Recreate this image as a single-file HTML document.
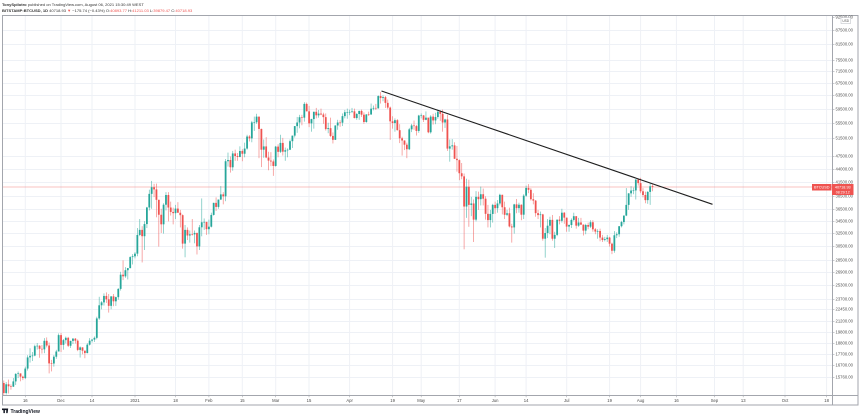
<!DOCTYPE html>
<html><head><meta charset="utf-8"><style>
html,body{margin:0;padding:0;background:#fff;}
svg{display:block;font-family:"Liberation Sans",sans-serif;}
</style></head><body>
<svg id="s" width="860" height="418" viewBox="0 0 860 418" xmlns="http://www.w3.org/2000/svg">
<rect width="860" height="418" fill="#fff"/>
<defs><clipPath id="cp"><rect x="2.5" y="15.5" width="829.5" height="379.5"/></clipPath></defs>
<g id="grid" stroke="#eef1f6" stroke-width="1"></g>
<line x1="2" y1="187" x2="832" y2="187" stroke="#ef5350" stroke-opacity="0.35" stroke-width="0.9"/>
<g id="c" clip-path="url(#cp)"></g>
<line x1="381.5" y1="91" x2="712.5" y2="204.3" stroke="#1e1e1e" stroke-width="1.1"/>
<!-- frame -->
<g stroke="#a3a6ad" stroke-width="1" fill="none">
<rect x="2.5" y="15.5" width="855.5" height="389.5"/>
<line x1="2" y1="395.5" x2="858" y2="395.5"/>
<line x1="832.5" y1="15" x2="832.5" y2="405"/>
</g>
<!-- header -->
<text x="2" y="5.8" font-size="4.05" fill="#333"><tspan font-weight="bold">TonySpilotro</tspan> published on TradingView.com, August 06, 2021 15:30:49 WEST</text>
<text x="2" y="11.8" font-size="4.05" fill="#333"><tspan font-weight="bold">BITSTAMP:BTCUSD, 1D</tspan> 40718.93 <tspan fill="#ef5350">▼</tspan> −175.74 (−0.43%) O:<tspan fill="#ef5350">40893.77</tspan> H:<tspan fill="#ef5350">41211.03</tspan> L:<tspan fill="#ef5350">39879.47</tspan> C:<tspan fill="#ef5350">40718.93</tspan></text>
<!-- price axis -->
<g id="pticks" stroke="#a3a6ad" stroke-width="0.6"></g>
<g font-size="4.2" fill="#555">
<text x="835.5" y="18.5">92500.00</text>
<text x="835.5" y="31.5">87500.00</text>
<text x="835.5" y="45.5">81500.00</text>
<text x="835.5" y="61.5">75500.00</text>
<text x="835.5" y="72.5">71500.00</text>
<text x="835.5" y="84.5">67500.00</text>
<text x="835.5" y="96.5">63500.00</text>
<text x="835.5" y="110.5">59500.00</text>
<text x="835.5" y="124.5">55500.00</text>
<text x="835.5" y="139.5">51500.00</text>
<text x="835.5" y="157.5">47500.00</text>
<text x="835.5" y="170.5">44000.00</text>
<text x="835.5" y="183.5">41500.00</text>
<text x="835.5" y="197.5">38500.00</text>
<text x="835.5" y="210.5">36500.00</text>
<text x="835.5" y="222.5">34500.00</text>
<text x="835.5" y="234.5">32500.00</text>
<text x="835.5" y="247.5">30500.00</text>
<text x="835.5" y="261.5">28500.00</text>
<text x="835.5" y="273.5">26900.00</text>
<text x="835.5" y="286.5">25300.00</text>
<text x="835.5" y="300.5">23700.00</text>
<text x="835.5" y="310.5">22450.00</text>
<text x="835.5" y="322.5">21200.00</text>
<text x="835.5" y="333.5">19800.00</text>
<text x="835.5" y="344.5">18800.00</text>
<text x="835.5" y="355.5">17700.00</text>
<text x="835.5" y="366.5">16700.00</text>
<text x="835.5" y="378.5">15760.00</text>
</g>
<rect x="841" y="17.5" width="9.5" height="6" fill="#fff" stroke="#b5b8bf" stroke-width="0.5"/>
<text x="845.75" y="21.8" font-size="3.2" fill="#555" text-anchor="middle">USD</text>
<!-- price tag -->
<rect x="812" y="184" width="19.5" height="6.5" fill="#ef5350"/>
<text x="821.75" y="188.6" font-size="3.8" fill="#fff" text-anchor="middle">BTCUSD</text>
<rect x="832" y="184" width="21.5" height="11" fill="#ef5350"/>
<text x="842.75" y="188.6" font-size="3.8" fill="#fff" text-anchor="middle">40718.93</text>
<text x="842.75" y="193.6" font-size="3.6" fill="#fff" text-anchor="middle">08:29:12</text>
<!-- time axis -->
<g id="tticks" stroke="#a3a6ad" stroke-width="0.6"></g>
<g font-size="4.2" fill="#4a4a4a" text-anchor="middle">
<text x="25.3" y="401.8">16</text>
<text x="61" y="401.8">Dec</text>
<text x="92" y="401.8">14</text>
<text x="135" y="401.8">2021</text>
<text x="175.5" y="401.8">18</text>
<text x="208.9" y="401.8">Feb</text>
<text x="242.3" y="401.8">15</text>
<text x="275.7" y="401.8">Mar</text>
<text x="309" y="401.8">15</text>
<text x="349.6" y="401.8">Apr</text>
<text x="392.6" y="401.8">19</text>
<text x="421.2" y="401.8">May</text>
<text x="459.3" y="401.8">17</text>
<text x="495.1" y="401.8">Jun</text>
<text x="526.1" y="401.8">14</text>
<text x="566.7" y="401.8">Jul</text>
<text x="609.6" y="401.8">19</text>
<text x="640.6" y="401.8">Aug</text>
<text x="676.4" y="401.8">16</text>
<text x="714.5" y="401.8">Sep</text>
<text x="743.2" y="401.8">13</text>
<text x="785" y="401.8">Oct</text>
<text x="826.6" y="401.8">18</text>
</g>
<!-- logo -->
<g fill="#131722">
<rect x="2" y="408.5" width="4" height="1.6"/>
<rect x="3.4" y="408.5" width="1.5" height="4.6"/>
<polygon points="6.3,408.5 8.2,408.5 7.6,413.1 6.2,413.1"/>
<circle cx="6.3" cy="409.3" r="0.8"/>
</g>
<text x="10.5" y="412.9" font-size="5" font-weight="bold" fill="#131722">TradingView</text>
</svg>
<script>
(function(){
var D="15.77,14.35,14.83;15.65,14.72,15.48;15.84,14.80,15.33;15.47,15.08,15.30;15.96,15.28,15.70;16.34,15.43,16.29;16.48,15.96,16.33;16.33,15.71,16.07;16.15,15.80,15.96;16.88,15.88,16.72;17.85,16.56,17.66;18.47,17.22,17.80;18.13,17.35,17.82;18.80,17.76,18.66;18.95,18.35,18.70;18.75,17.63,18.42;18.77,18.00,18.37;19.41,18.03,19.16;19.48,18.55,18.72;19.00,16.33,17.15;17.45,16.49,17.14;17.86,16.88,17.72;18.33,17.54,18.18;19.86,18.18,19.70;"+
"19.92,18.13,18.78;19.33,18.34,19.22;19.56,18.92,19.44;19.53,18.58,18.70;19.17,18.50,19.15;19.42,18.86,19.36;19.42,18.90,19.17;19.29,18.21,18.32;18.64,17.65,18.55;18.56,17.93,18.25;18.28,17.59,18.04;18.94,18.02,18.80;19.41,18.72,19.17;19.34,19.00,19.27;19.57,19.05,19.44;21.56,19.30,21.38;23.77,21.23,22.80;23.27,22.35,23.13;24.17,22.77,23.87;24.29,23.07,23.48;24.10,22.00,22.74;23.84,22.36,23.82;24.10,22.70,23.25;23.79,22.73,23.73;24.79,23.44,24.71;26.87,24.51,26.49;28.42,25.80,26.28;27.49,26.09,27.08;27.38,25.88,27.36;29.00,27.33,28.88;29.30,27.85,28.99;"+
"29.60,28.70,29.37;33.30,29.00,32.19;34.80,32.00,33.00;33.60,28.13,31.99;34.44,29.90,33.95;36.94,33.30,36.83;40.18,36.30,39.37;41.95,36.60,40.67;41.36,38.75,40.24;41.40,35.10,38.24;38.26,30.40,35.54;36.60,32.50,33.91;37.60,32.40,37.33;39.70,36.30,39.15;39.70,34.40,36.82;37.90,35.40,36.03;36.80,33.90,35.82;37.30,34.80,36.63;37.80,35.90,35.89;36.40,33.40,35.47;35.60,30.10,30.85;33.80,28.85,33.00;33.40,31.40,32.10;32.90,31.00,32.29;34.80,32.10,32.28;32.90,30.90,32.51;32.56,29.25,30.43;33.80,29.90,33.42;38.50,31.98,34.26;34.90,33.00,34.32;34.32,32.20,33.11;"+
"34.70,32.30,33.52;35.90,33.40,35.51;37.70,35.40,37.67;38.70,36.20,36.93;38.30,36.60,38.29;40.90,38.20,39.27;39.70,37.40,38.90;46.70,37.98,46.20;48.20,45.00,46.48;47.30,43.70,44.85;48.60,44.10,48.00;48.90,46.30,47.40;48.10,46.30,47.18;49.70,47.10,48.58;49.00,46.20,47.93;50.60,47.10,49.16;52.60,48.90,52.15;52.50,50.90,51.68;56.30,50.70,55.89;57.50,53.60,55.92;58.30,55.50,57.49;57.50,46.90,54.13;54.20,44.90,48.89;51.40,47.00,49.68;52.00,46.90,47.06;48.40,44.20,46.34;48.30,45.10,46.15;46.60,43.00,45.14;"+
"49.80,45.00,49.63;50.20,47.10,48.38;52.60,48.10,50.54;51.80,47.50,48.42;49.40,46.30,48.76;49.20,47.10,48.88;51.40,48.80,50.97;52.40,49.30,52.38;54.90,51.90,54.88;57.40,53.10,55.86;58.00,54.30,57.33;58.00,55.10,57.20;61.70,56.10,61.19;61.60,59.00,59.00;60.60,54.60,55.63;56.90,53.40,56.80;58.90,54.20,58.87;60.00,57.00,57.86;59.40,57.20,58.35;59.80,57.90,58.10;58.60,55.50,57.35;58.40,53.70,54.09;55.80,53.00,54.34;57.20,52.00,52.30;53.20,50.40,51.31;55.10,51.30,55.05;56.60,53.90,55.86;56.50,54.70,55.81;58.40,54.90,57.63;59.40,57.00,58.75;59.80,56.90,58.79;"+
"59.50,57.90,58.83;60.00,58.50,59.00;59.80,57.00,57.09;58.50,56.60,58.23;59.20,56.60,59.12;59.50,57.40,58.04;58.70,55.50,56.00;58.20,55.80,58.11;58.90,57.70,58.10;61.30,58.00,59.78;60.70,59.30,60.00;61.20,59.40,59.86;63.80,59.80,63.59;64.85,61.30,62.98;63.80,62.00,63.26;63.60,60.00,61.50;62.50,59.60,60.10;60.40,51.30,56.18;57.60,54.20,55.71;57.00,53.40,56.50;56.80,53.70,53.80;55.40,50.50,51.70;52.10,47.50,51.14;51.20,48.80,50.10;50.60,46.90,49.00;54.40,48.80,54.02;55.50,53.30,55.05;56.40,53.90,54.88;55.20,52.40,53.60;58.00,53.10,57.80;"+
"58.40,57.00,57.83;57.95,56.00,56.60;58.98,56.50,57.20;57.20,53.00,53.24;57.90,52.90,57.50;58.30,55.30,56.43;58.60,55.40,57.38;59.50,56.90,58.90;59.30,56.30,58.28;59.50,53.40,55.86;56.90,54.40,56.70;58.00,48.60,49.15;51.40,46.10,49.70;51.50,48.90,49.93;50.70,46.70,46.76;49.80,43.90,46.45;46.60,42.10,43.56;45.80,42.30,42.90;43.50,30.00,37.00;42.40,35.00,40.78;42.20,33.50,37.30;38.80,35.30,37.56;38.30,31.10,34.70;39.90,34.40,38.80;39.80,36.40,38.36;40.80,37.20,39.30;40.40,37.20,38.45;38.90,34.70,35.70;37.30,33.40,34.62;36.40,33.40,35.68;37.50,34.20,37.30;"+
"37.90,35.70,36.70;38.20,35.90,37.56;39.40,37.20,39.19;39.20,35.60,36.87;37.90,34.80,35.53;36.40,35.30,35.80;36.80,33.40,33.56;34.00,31.00,33.40;37.50,32.40,37.39;38.40,35.80,36.70;37.70,35.90,37.33;37.40,34.60,35.55;39.30,34.80,39.02;41.00,38.80,40.53;41.30,39.50,40.16;40.50,38.10,38.35;39.50,37.40,38.09;38.20,35.20,35.82;36.40,34.80,35.48;36.10,33.40,35.60;35.70,31.30,31.60;33.30,28.80,32.50;34.80,31.70,33.68;35.20,32.30,34.66;35.50,31.30,31.60;32.70,30.20,32.20;34.70,32.00,34.70;35.30,33.90,34.50;36.60,34.20,35.90;36.00,34.00,35.04;"+
"35.04,32.70,33.54;33.90,32.70,33.80;34.90,33.30,34.65;35.90,34.40,35.29;35.29,33.20,33.69;35.00,33.50,34.22;35.00,33.80,33.86;33.90,32.10,32.88;34.00,32.30,33.80;34.20,33.10,33.52;34.60,33.30,34.26;34.60,32.70,33.09;33.30,32.30,32.73;33.10,31.60,32.82;33.20,31.20,31.78;32.20,31.10,31.40;31.90,31.20,31.53;32.20,31.10,31.78;31.90,30.40,30.84;31.00,29.30,29.79;32.80,29.50,32.14;32.60,31.70,32.30;33.60,31.90,33.60;34.50,33.40,34.29;35.40,33.90,35.40;40.50,35.30,37.30;39.50,36.40,39.47;40.90,38.80,40.02;40.60,39.30,40.04;42.30,38.30,42.23;42.40,41.00,41.50;"+
"42.60,39.50,39.87;40.50,38.70,39.15;39.80,37.60,38.18;39.90,37.50,39.75;41.40,37.30,40.87;41.21,39.88,40.72";
var rows=D.split(';').map(function(r){return r.split(',').map(Number);});
function Y(p){return 187-204*Math.log(p/40.718);}
var prev=15.58,s='';
for(var i=0;i<rows.length;i++){
  var h=rows[i][0],l=rows[i][1],c=rows[i][2];
  var o=(i==rows.length-1)?40.89:prev;
  var x=3.8+i*2.385;
  var col=c>=o?'#26a69a':'#ef5350';
  var yh=Y(h),yl=Y(l);
  s+='<rect x="'+(x-0.35).toFixed(2)+'" y="'+yh.toFixed(2)+'" width="0.7" height="'+(yl-yh).toFixed(2)+'" fill="'+col+'" opacity="0.7"/>';
  var yo=Y(o),yc=Y(c),t=Math.min(yo,yc),bh=Math.max(0.6,Math.abs(yo-yc));
  s+='<rect x="'+(x-0.9).toFixed(2)+'" y="'+t.toFixed(2)+'" width="1.8" height="'+bh.toFixed(2)+'" fill="'+col+'"/>';
  prev=c;
}
document.getElementById('c').innerHTML=s;
var hy=[30,44,60,71,83,95,109,123,138,156,169,182,196,209,221,233,246,260,272,285,299,309,321,332,343,354,365,377];
var vx=[25.3,61,92,135,175.5,208.9,242.3,275.7,309,349.6,392.6,421.2,459.3,495.1,526.1,566.7,609.6,640.6,676.4,714.5,743.2,785,826.6];
var g='',pt='',tt='';
hy.forEach(function(y){g+='<line x1="3" y1="'+(y+0.5)+'" x2="832" y2="'+(y+0.5)+'"/>';pt+='<line x1="832.5" y1="'+(y+0.5)+'" x2="834.5" y2="'+(y+0.5)+'"/>';});
pt+='<line x1="832.5" y1="17.5" x2="834.5" y2="17.5"/>';
vx.forEach(function(x){g+='<line x1="'+x+'" y1="16" x2="'+x+'" y2="395"/>';tt+='<line x1="'+x+'" y1="395.5" x2="'+x+'" y2="397.3"/>';});
document.getElementById('grid').innerHTML=g;
document.getElementById('pticks').innerHTML=pt;
document.getElementById('tticks').innerHTML=tt;
})();
</script>
</body></html>
